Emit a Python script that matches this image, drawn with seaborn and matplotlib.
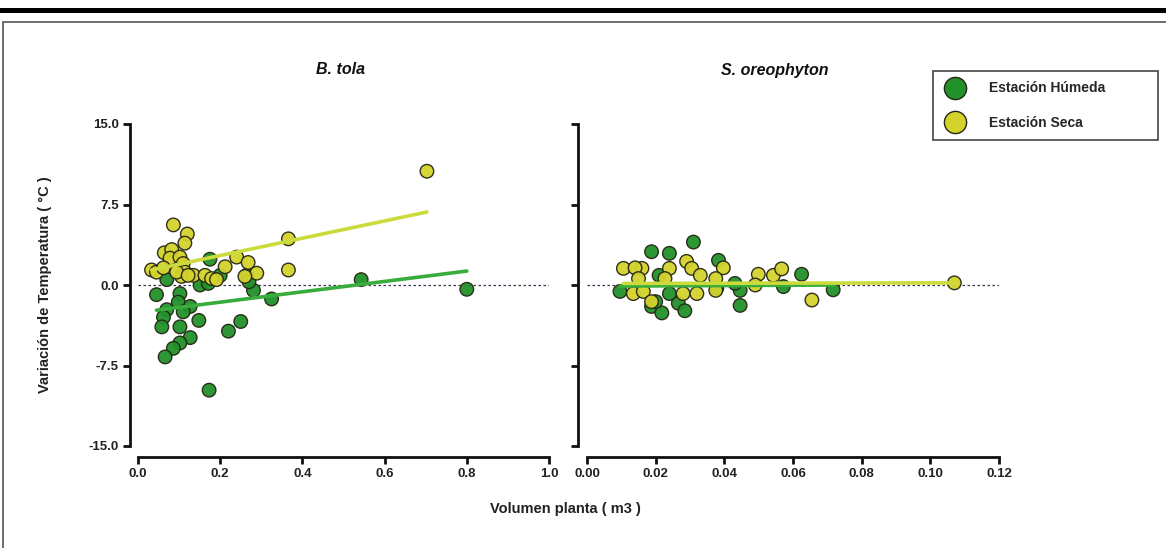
import numpy as np
import pandas as pd
import matplotlib
matplotlib.use("Agg")
import matplotlib.pyplot as plt
from matplotlib.lines import Line2D
from matplotlib.patches import Rectangle
import seaborn as sns

# ---- data -------------------------------------------------------------
seasons = ["Estación Húmeda", "Estación Seca"]

# B. tola
bt_hum_x = [0.175, 0.070, 0.045, 0.102, 0.098, 0.127, 0.070, 0.062, 0.110, 0.058,
            0.102, 0.148, 0.127, 0.102, 0.086, 0.066, 0.220, 0.250, 0.173, 0.151,
            0.200, 0.264, 0.281, 0.325, 0.171, 0.543, 0.800, 0.270]
bt_hum_y = [2.4, 0.5, -0.9, -0.8, -1.6, -2.0, -2.3, -3.0, -2.5, -3.9,
            -3.9, -3.3, -4.9, -5.4, -5.9, -6.7, -4.3, -3.4, -9.8, 0.0,
            0.9, 0.9, -0.5, -1.3, 0.15, 0.5, -0.4, 0.3]
bt_sec_x = [0.086, 0.120, 0.114, 0.064, 0.082, 0.078, 0.102, 0.033, 0.045, 0.110,
            0.114, 0.106, 0.135, 0.163, 0.179, 0.212, 0.240, 0.268, 0.289, 0.366,
            0.366, 0.703, 0.191, 0.094, 0.062, 0.122, 0.260]
bt_sec_y = [5.6, 4.75, 3.9, 3.0, 3.3, 2.5, 2.6, 1.4, 1.2, 2.0,
            1.2, 0.8, 0.9, 0.9, 0.6, 1.7, 2.6, 2.1, 1.1, 4.3,
            1.4, 10.6, 0.5, 1.2, 1.6, 0.9, 0.8]

# S. oreophyton
so_hum_x = [0.0310, 0.0188, 0.0240, 0.0383, 0.0096, 0.0188, 0.0218, 0.0266, 0.0285, 0.0240,
            0.0210, 0.0200, 0.0446, 0.0446, 0.0572, 0.0625, 0.0717, 0.0431, 0.0378]
so_hum_y = [4.0, 3.1, 2.95, 2.3, -0.6, -2.0, -2.6, -1.7, -2.4, -0.8,
            0.9, -1.55, -0.5, -1.9, -0.15, 1.0, -0.45, 0.15, -0.3]
so_sec_x = [0.0106, 0.0160, 0.0140, 0.0240, 0.0290, 0.0305, 0.0330, 0.0150, 0.0135, 0.0164,
            0.0188, 0.0280, 0.0320, 0.0227, 0.0397, 0.0375, 0.0375, 0.0499, 0.0543, 0.0567,
            0.0655, 0.0490, 0.1070]
so_sec_y = [1.55, 1.55, 1.6, 1.55, 2.2, 1.55, 0.9, 0.6, -0.8, -0.6,
            -1.55, -0.8, -0.8, 0.6, 1.6, 0.6, -0.5, 1.0, 0.9, 1.5,
            -1.4, 0.0, 0.2]

# linear fits (end points)
bt_fit_hum_x, bt_fit_hum_y = [0.045, 0.800], [-2.35, 1.30]
bt_fit_sec_x, bt_fit_sec_y = [0.033, 0.703], [1.40, 6.80]
so_fit_hum_x, so_fit_hum_y = [0.0096, 0.0717], [-0.10, 0.00]
so_fit_sec_x, so_fit_sec_y = [0.0106, 0.1070], [0.15, 0.20]

y_ticks = [-15.0, -7.5, 0.0, 7.5, 15.0]
bt_x_ticks = [0.0, 0.2, 0.4, 0.6, 0.8, 1.0]
so_x_ticks = [0.00, 0.02, 0.04, 0.06, 0.08, 0.10, 0.12]

# ---- style ------------------------------------------------------------
sns.set_style("white")
plt.rcParams["font.family"] = ["Liberation Sans", "DejaVu Sans"]
plt.rcParams["font.weight"] = "bold"

point_colors = {seasons[0]: "#21922a", seasons[1]: "#d3d32c"}
line_colors = {seasons[0]: "#39ad3c", seasons[1]: "#cbdb3c"}
edge_color = "#262614"

W, H = 1166, 548
fig = plt.figure(figsize=(W / 100, H / 100), dpi=100)

# page decorations: heavy rule on top and a thin frame
fig.add_artist(Rectangle((0, 1 - 13 / H), 1, 5 / H, transform=fig.transFigure,
                         facecolor="black", edgecolor="none"))
fig.add_artist(Rectangle((3 / W, -0.01), 1.0, 1 - 22 / H + 0.01, transform=fig.transFigure,
                         facecolor="none", edgecolor="#555555", linewidth=1.2))


def fig_box(x0, x1, ytop, ybot):
    return [x0 / W, 1 - ybot / H, (x1 - x0) / W, (ybot - ytop) / H]


ax1 = fig.add_axes(fig_box(138, 549, 124, 446))
ax2 = fig.add_axes(fig_box(587, 999, 124, 446))


def make_frame(xs_h, ys_h, xs_s, ys_s):
    return pd.DataFrame({
        "x": list(xs_h) + list(xs_s),
        "y": list(ys_h) + list(ys_s),
        "season": [seasons[0]] * len(xs_h) + [seasons[1]] * len(xs_s),
    })


panels = [
    (ax1, make_frame(bt_hum_x, bt_hum_y, bt_sec_x, bt_sec_y),
     (bt_fit_hum_x, bt_fit_hum_y), (bt_fit_sec_x, bt_fit_sec_y),
     bt_x_ticks, (0.0, 1.0), "{:.1f}", 11, 8),
    (ax2, make_frame(so_hum_x, so_hum_y, so_sec_x, so_sec_y),
     (so_fit_hum_x, so_fit_hum_y), (so_fit_sec_x, so_fit_sec_y),
     so_x_ticks, (0.0, 0.12), "{:.2f}", 11, 9),
]

for ax, df, fit_h, fit_s, xt, xlim, fmt, off_b, off_l in panels:
    ax.axhline(0, color="#3a3050", lw=0.9, ls=(0, (2, 2)), zorder=1)
    sns.scatterplot(data=df, x="x", y="y", hue="season", hue_order=seasons,
                    palette=point_colors, s=95, edgecolor=edge_color, linewidth=1.0,
                    alpha=0.95, legend=False, ax=ax, zorder=3)
    for (fx, fy), season in ((fit_h, seasons[0]), (fit_s, seasons[1])):
        sns.lineplot(x=fx, y=fy, color=line_colors[season], lw=2.6, ax=ax, zorder=4)
    ax.set_xlim(*xlim)
    ax.set_ylim(-15, 15)
    ax.set_xticks(xt)
    ax.set_xticklabels([fmt.format(v) for v in xt])
    ax.set_yticks(y_ticks)
    ax.set_xlabel("")
    ax.set_ylabel("")
    for side in ("top", "right"):
        ax.spines[side].set_visible(False)
    ax.spines["left"].set_position(("outward", off_l * 0.72))
    ax.spines["bottom"].set_position(("outward", off_b * 0.72))
    for side in ("left", "bottom"):
        ax.spines[side].set_linewidth(2.0)
        ax.spines[side].set_color("#111111")
    ax.tick_params(axis="both", direction="out", length=5, width=2.0, color="#111111",
                   labelsize=9.5, labelcolor="#222222", pad=3,
                   left=True, bottom=True)
    for lbl in ax.get_xticklabels() + ax.get_yticklabels():
        lbl.set_fontweight("bold")
    ax.patch.set_alpha(0)

ax1.set_yticklabels(["{:.1f}".format(v) for v in y_ticks])
ax2.set_yticklabels([])

# titles and axis labels
fig.text(340 / W, 1 - 70 / H, "B. tola", ha="center", va="center",
         fontsize=11.5, fontweight="bold", style="italic", color="#111111")
fig.text(775 / W, 1 - 70 / H, "S. oreophyton", ha="center", va="center",
         fontsize=11.5, fontweight="bold", style="italic", color="#111111")
fig.text(565 / W, 1 - 509 / H, "Volumen planta ( m3 )", ha="center", va="center",
         fontsize=10.5, fontweight="bold", color="#222222")
fig.text(45 / W, 1 - 285 / H, "Variación de Temperatura ( °C )", ha="center", va="center",
         rotation=90, fontsize=10.5, fontweight="bold", color="#222222")

# legend
handles = [Line2D([], [], ls="none", marker="o", markersize=16,
                  markerfacecolor=point_colors[s], markeredgecolor=edge_color,
                  markeredgewidth=1.0) for s in seasons]
leg = fig.legend(handles, seasons, loc="lower left",
                 bbox_to_anchor=(933 / W, 1 - 140 / H, 225 / W, 75 / H),
                 mode="expand", frameon=True,
                 fancybox=False, edgecolor="#444444", framealpha=1,
                 prop={"weight": "bold", "size": 10}, handletextpad=1.7,
                 labelspacing=1.45, borderpad=0.75, handlelength=1.6,
                 borderaxespad=0)
leg.get_frame().set_linewidth(1.2)

fig.savefig("out.png", dpi=100)
